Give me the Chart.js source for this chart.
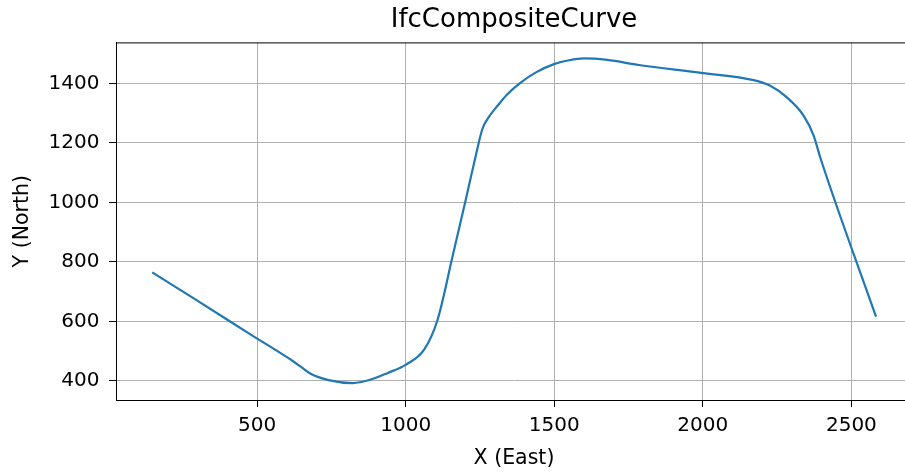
<!DOCTYPE html>
<html>
<head>
<meta charset="utf-8">
<script src="https://cdn.jsdelivr.net/npm/chart.js@4/dist/chart.umd.min.js"></script>
<style>
  html, body { margin: 0; padding: 0; background: #fff; overflow: hidden; }
  #wrap { width: 905px; height: 475px; overflow: hidden; }
</style>
</head>
<body>
<div id="wrap"><canvas id="chart" width="920" height="475"></canvas></div>
<script>
// points (East, North)
const eastValues = [147, 300, 480, 620, 648, 680, 740, 822, 880, 940, 1001, 1062, 1107, 1158, 1200, 1236, 1258, 1275,
                    1309, 1342, 1387, 1440, 1499, 1550, 1600, 1678, 1785, 2000, 2171, 2227, 2283, 2339, 2373, 2395, 2583];
const northValues = [765, 669, 555, 467, 447, 424, 403, 393, 404, 427, 455, 505, 605, 820, 1000, 1158, 1247, 1280,
                     1325, 1364, 1403, 1438, 1465, 1478, 1484, 1479, 1462, 1435, 1411, 1392, 1353, 1292, 1225, 1152, 616];
const xTicks = [500, 1000, 1500, 2000, 2500];
const yTicks = [400, 600, 800, 1000, 1200, 1400];

Chart.defaults.font.family = 'DejaVu Sans';
Chart.defaults.color = '#000';

// top spine like matplotlib
const frame = {
    id: 'frame',
    afterDraw(chart) {
        const a = chart.chartArea, ctx = chart.ctx;
        ctx.save();
        ctx.strokeStyle = '#000';
        ctx.lineWidth = 1;
        ctx.strokeRect(a.left + 0.5, a.top + 0.5, a.right - a.left, a.bottom - a.top);
        ctx.restore();
    }
};

new Chart(document.getElementById('chart').getContext('2d'), {
    type: 'line',
    data: {
        datasets: [{
            label: 'IfcCompositeCurve',
            data: eastValues.map((x, i) => ({x: x, y: northValues[i]})),
            borderColor: '#1f77b4',
            borderWidth: 2.2,
            pointRadius: 0,
            cubicInterpolationMode: 'monotone',
            fill: false
        }]
    },
    options: {
        responsive: false,
        animation: false,
        layout: { padding: { left: 0, right: 8, top: 0, bottom: 0 } },
        plugins: {
            legend: { display: false },
            tooltip: { enabled: false },
            title: {
                display: true,
                fullSize: false,
                text: 'IfcCompositeCurve',
                color: '#000',
                font: { size: 26, weight: 'normal' },
                padding: { top: 4.4, bottom: 6.8 }
            }
        },
        scales: {
            x: {
                type: 'linear',
                min: 25,
                max: 2704,
                afterBuildTicks: s => { s.ticks = xTicks.map(v => ({value: v})); },
                afterFit: s => { s.height = 75; },
                ticks: { font: { size: 20 }, padding: 7, maxRotation: 0, callback: v => String(v) },
                grid: { color: '#b0b0b0', tickColor: '#000', tickLength: 7 },
                border: { color: '#000', width: 1 },
                title: { display: true, text: 'X (East)', font: { size: 20.5 }, padding: { top: 0, bottom: 3.7 } }
            },
            y: {
                type: 'linear',
                min: 336,
                max: 1538,
                afterBuildTicks: s => { s.ticks = yTicks.map(v => ({value: v})); },
                afterFit: s => { s.width = 116; },
                ticks: { font: { size: 20 }, padding: 9.5, callback: v => String(v) },
                grid: { color: '#b0b0b0', tickColor: '#000', tickLength: 7 },
                border: { color: '#000', width: 1 },
                title: { display: true, text: 'Y (North)', font: { size: 20.5 }, padding: { top: 10.2, bottom: 0 } }
            }
        }
    },
    plugins: [frame]
});
</script>
</body>
</html>
